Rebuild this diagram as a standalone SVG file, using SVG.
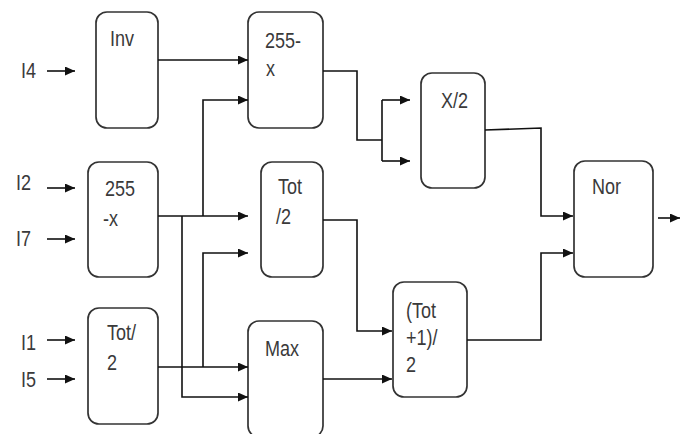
<svg xmlns="http://www.w3.org/2000/svg" width="686" height="434" viewBox="0 0 686 434">
<style>
.box{fill:#fff;stroke:#333;stroke-width:1.7}
.lbl{font-family:"Liberation Sans",Arial,sans-serif;font-size:22px;fill:#3a3a3a}
.w{fill:none;stroke:#111;stroke-width:1.6}
</style>
<defs>
<marker id="ah" markerUnits="userSpaceOnUse" markerWidth="11" markerHeight="10" refX="10" refY="4.5" orient="auto">
<path d="M0,0 L10,4.5 L0,9 z" fill="#111"/>
</marker>
</defs>
<rect width="686" height="434" fill="#fff"/>
<g id="inputs">
<text class="lbl" transform="translate(21,78) scale(0.82,1)">I4</text>
<text class="lbl" transform="translate(16,190) scale(0.82,1)">I2</text>
<text class="lbl" transform="translate(16,246) scale(0.82,1)">I7</text>
<text class="lbl" transform="translate(21,350) scale(0.82,1)">I1</text>
<text class="lbl" transform="translate(21,387) scale(0.82,1)">I5</text>
</g>
<g id="inv">
<rect class="box" x="96" y="12" width="62" height="116" rx="11"/>
<text class="lbl" transform="translate(110,46) scale(0.82,1)">Inv</text>
</g>
<g id="sub1">
<rect class="box" x="248" y="12" width="75" height="116" rx="11"/>
<text class="lbl" transform="translate(265,48) scale(0.82,1)">255-</text>
<text class="lbl" transform="translate(266,76) scale(0.82,1)">x</text>
</g>
<g id="half1">
<rect class="box" x="421" y="73" width="64" height="115" rx="11"/>
<text class="lbl" transform="translate(441,108) scale(0.82,1)">X/2</text>
</g>
<g id="sub2">
<rect class="box" x="88" y="162" width="70" height="115" rx="11"/>
<text class="lbl" transform="translate(105,196) scale(0.82,1)">255</text>
<text class="lbl" transform="translate(103,226) scale(0.82,1)">-x</text>
</g>
<g id="tot1">
<rect class="box" x="261" y="162" width="62" height="115" rx="11"/>
<text class="lbl" transform="translate(278,194) scale(0.82,1)">Tot</text>
<text class="lbl" transform="translate(276,224) scale(0.82,1)">/2</text>
</g>
<g id="nor">
<rect class="box" x="574" y="161" width="79" height="116" rx="11"/>
<text class="lbl" transform="translate(592,194) scale(0.82,1)">Nor</text>
</g>
<g id="tot2">
<rect class="box" x="88" y="308" width="70" height="116" rx="11"/>
<text class="lbl" transform="translate(107,340) scale(0.82,1)">Tot/</text>
<text class="lbl" transform="translate(107,370) scale(0.82,1)">2</text>
</g>
<g id="max">
<rect class="box" x="248" y="321" width="75" height="116" rx="11"/>
<text class="lbl" transform="translate(265,356) scale(0.82,1)">Max</text>
</g>
<g id="tot3">
<rect class="box" x="393" y="282" width="74" height="115" rx="11"/>
<text class="lbl" transform="translate(406,318) scale(0.82,1)">(Tot</text>
<text class="lbl" transform="translate(406,345) scale(0.82,1)">+1)/</text>
<text class="lbl" transform="translate(406,372) scale(0.82,1)">2</text>
</g>
<g id="connectors">
<path class="w" d="M47,71 H75" marker-end="url(#ah)"/>
<path class="w" d="M47,188 H75" marker-end="url(#ah)"/>
<path class="w" d="M47,239 H75" marker-end="url(#ah)"/>
<path class="w" d="M47,340 H75" marker-end="url(#ah)"/>
<path class="w" d="M47,379 H75" marker-end="url(#ah)"/>
<path class="w" d="M158,60 H248" marker-end="url(#ah)"/>
<path class="w" d="M158,216 H248" marker-end="url(#ah)"/>
<path class="w" d="M203,216 V100 H248" marker-end="url(#ah)"/>
<path class="w" d="M182,216 V397 H248" marker-end="url(#ah)"/>
<path class="w" d="M158,367 H248" marker-end="url(#ah)"/>
<path class="w" d="M203,367 V253 H248" marker-end="url(#ah)"/>
<path class="w" d="M323,379 H392" marker-end="url(#ah)"/>
<path class="w" d="M323,220 H357 V331 H392" marker-end="url(#ah)"/>
<path class="w" d="M323,71 H357 V140 H382 M382,100 V161"/>
<path class="w" d="M382,100 H410" marker-end="url(#ah)"/>
<path class="w" d="M382,161 H410" marker-end="url(#ah)"/>
<path class="w" d="M485,130 L541,128 V216 H573" marker-end="url(#ah)"/>
<path class="w" d="M467,340 H541 V253 H573" marker-end="url(#ah)"/>
<path class="w" d="M658,218 H680" marker-end="url(#ah)"/>
</g>
</svg>
